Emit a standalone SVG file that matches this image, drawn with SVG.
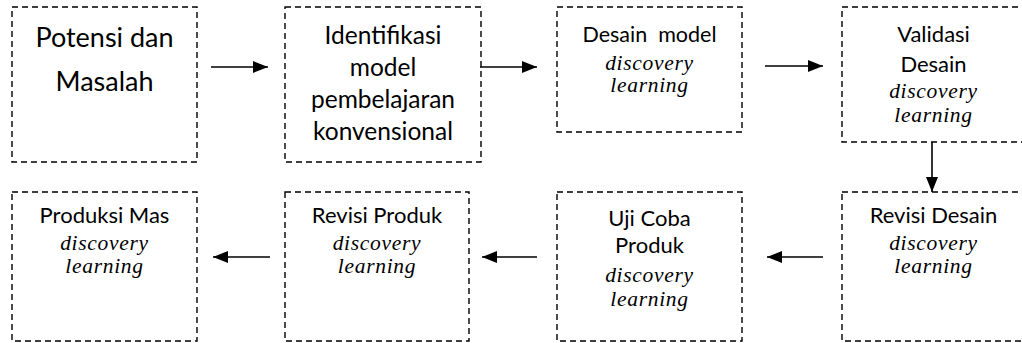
<svg xmlns="http://www.w3.org/2000/svg" width="1022" height="343" viewBox="0 0 1022 343">
<defs>
<marker id="ah" markerWidth="15" markerHeight="12" refX="15" refY="6" orient="auto" markerUnits="userSpaceOnUse">
<path d="M0,0 L15,6 L0,12 Z" fill="#000"/>
</marker>
<style>
.box{fill:#fff;stroke:#000;stroke-width:1.4;stroke-dasharray:6 4}
.s{font-family:"Lato","Open Sans",sans-serif;fill:#000;text-anchor:middle;font-size:22px}
.s1{font-size:27px}
.s2{font-size:24.5px}
.s3{font-size:21.5px}
.i{font-family:"Liberation Serif",serif;font-style:italic;fill:#000;text-anchor:middle;font-size:21.5px;letter-spacing:0.7px}
.c{stroke:#000;stroke-width:1.6;fill:none;marker-end:url(#ah)}
</style>
</defs>
<rect width="1022" height="343" fill="#fff"/>
<g id="n1">
<rect class="box" x="12" y="7" width="185" height="155"/>
<text class="s s1" x="104.5" y="47">Potensi dan</text>
<text class="s s1" x="104.5" y="91">Masalah</text>
</g>
<g id="n2">
<rect class="box" x="285" y="7" width="196" height="155"/>
<text class="s s2" x="383" y="44">Identifikasi</text>
<text class="s s2" x="383" y="76">model</text>
<text class="s s2" x="383" y="108">pembelajaran</text>
<text class="s s2" x="383" y="140">konvensional</text>
</g>
<g id="n3">
<rect class="box" x="557" y="7" width="185" height="125"/>
<text class="s s3" x="649.5" y="42" xml:space="preserve">Desain  model</text>
<text class="i" x="649.5" y="70">discovery</text>
<text class="i" x="649.5" y="92">learning</text>
</g>
<g id="n4">
<rect class="box" x="842" y="7" width="185" height="135"/>
<text class="s" x="933.5" y="42">Validasi</text>
<text class="s" x="933.5" y="72">Desain</text>
<text class="i" x="933.5" y="98">discovery</text>
<text class="i" x="933.5" y="122">learning</text>
</g>
<g id="n5">
<rect class="box" x="842" y="192" width="185" height="149"/>
<text class="s" x="933.5" y="223">Revisi Desain</text>
<text class="i" x="933.5" y="250">discovery</text>
<text class="i" x="933.5" y="273">learning</text>
</g>
<g id="n6">
<rect class="box" x="557" y="192" width="185" height="149"/>
<text class="s" x="649.5" y="226">Uji Coba</text>
<text class="s" x="649.5" y="253">Produk</text>
<text class="i" x="649.5" y="282">discovery</text>
<text class="i" x="649.5" y="306">learning</text>
</g>
<g id="n7">
<rect class="box" x="285" y="192" width="184" height="149"/>
<text class="s" x="377" y="223">Revisi Produk</text>
<text class="i" x="377" y="250">discovery</text>
<text class="i" x="377" y="273">learning</text>
</g>
<g id="n8">
<rect class="box" x="12" y="192" width="185" height="149"/>
<text class="s" x="104.5" y="223">Produksi Mas</text>
<text class="i" x="104.5" y="250">discovery</text>
<text class="i" x="104.5" y="273">learning</text>
</g>
<g id="connectors">
<line class="c" x1="211" y1="67" x2="268" y2="67"/>
<line class="c" x1="480" y1="67" x2="537" y2="67"/>
<line class="c" x1="765" y1="66" x2="823" y2="66"/>
<line class="c" x1="932" y1="142" x2="932" y2="192"/>
<line class="c" x1="823" y1="257" x2="767" y2="257"/>
<line class="c" x1="537" y1="257" x2="482" y2="257"/>
<line class="c" x1="270" y1="257" x2="213" y2="257"/>
</g>
</svg>
